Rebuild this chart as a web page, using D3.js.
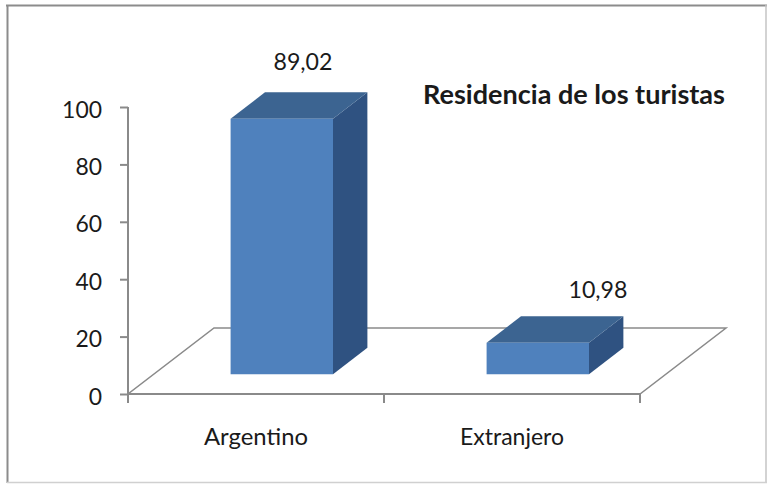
<!DOCTYPE html>
<html>
<head>
<meta charset="utf-8">
<script src="https://cdn.jsdelivr.net/npm/d3@7"></script>
<style>
  html, body { margin: 0; padding: 0; background: #fff; }
  svg { display: block; }
  text { font-family: Lato, "Open Sans", "Noto Sans", sans-serif; fill: #1a1a1a; }
</style>
</head>
<body>
<svg id="chart" width="773" height="485"></svg>
<script>
// ---- data ----
const categories = ["Argentino", "Extranjero"];
const values = [89.02, 10.98];
const valueLabels = ["89,02", "10,98"];
const yTicks = [0, 20, 40, 60, 80, 100];
const title = "Residencia de los turistas";

// ---- layout ----
const W = 773, H = 485;
const plot = { left: 128, right: 640, bottom: 394, top: 107 };
const depth = { dx: 86, dy: -66 };     // floor depth projection
const barDepth = [0.3, 0.7];           // bar front/back as fraction of floor depth
const colors = { front: "#4f81bd", top: "#3c6491", side: "#2f5281", grid: "#8a8a8a" };

const svg = d3.select("#chart");

// frame
svg.append("line").attr("x1", 6).attr("x2", 767).attr("y1", 5.5).attr("y2", 5.5).attr("stroke", "#8c8c8c").attr("stroke-width", 2);
svg.append("line").attr("x1", 7.5).attr("x2", 7.5).attr("y1", 5).attr("y2", 483).attr("stroke", "#8c8c8c").attr("stroke-width", 2);
svg.append("line").attr("x1", 766).attr("x2", 766).attr("y1", 5).attr("y2", 483).attr("stroke", "#c4c4c4").attr("stroke-width", 1.5);
svg.append("line").attr("x1", 7).attr("x2", 767).attr("y1", 482.5).attr("y2", 482.5).attr("stroke", "#d0d0d0").attr("stroke-width", 1.5);

const x = d3.scaleBand().domain(categories).range([plot.left, plot.right]).paddingInner(0).paddingOuter(0);
const y = d3.scaleLinear().domain([0, 100]).range([plot.bottom, plot.top]);
const barW = x.bandwidth() * 0.4;

function proj(px, v, d) {
  return [px + d * depth.dx, y(v) + d * depth.dy];
}

// floor
const floor = [
  proj(plot.left, 0, 0), proj(plot.right, 0, 0),
  proj(plot.right, 0, 1), proj(plot.left, 0, 1)
];
svg.append("path")
  .attr("d", d3.line()(floor) + "Z")
  .attr("fill", "#fff")
  .attr("stroke", colors.grid)
  .attr("stroke-width", 1.5);

// y axis
const yAxis = d3.axisLeft(y).tickValues(yTicks).tickSize(8).tickPadding(18).tickFormat(d3.format("d"));
const gy = svg.append("g").attr("transform", `translate(${plot.left},0)`).call(yAxis);
gy.select(".domain").remove();
gy.selectAll(".tick line").attr("stroke", colors.grid).attr("stroke-width", 2);
gy.selectAll(".tick text")
  .style("font-size", "24px")
  .attr("fill", "#1a1a1a")
  .attr("dy", "0.42em")
  .attr("textLength", d => String(d).length * 13.3)
  .attr("lengthAdjust", "spacingAndGlyphs");
svg.append("line")
  .attr("x1", plot.left).attr("x2", plot.left)
  .attr("y1", y(100)).attr("y2", plot.bottom + 9)
  .attr("stroke", colors.grid).attr("stroke-width", 2);

// x axis (front edge) + category ticks
svg.append("line")
  .attr("x1", plot.left).attr("x2", plot.right)
  .attr("y1", plot.bottom).attr("y2", plot.bottom)
  .attr("stroke", colors.grid).attr("stroke-width", 2);
const edges = [plot.left].concat(categories.map(c => x(c) + x.bandwidth()));
svg.selectAll(".xtick").data(edges).join("line")
  .attr("x1", d => d).attr("x2", d => d)
  .attr("y1", plot.bottom).attr("y2", plot.bottom + 9)
  .attr("stroke", colors.grid).attr("stroke-width", 2);

svg.selectAll(".xlabel").data(categories).join("text")
  .attr("x", d => x(d) + x.bandwidth() / 2)
  .attr("y", 445)
  .attr("text-anchor", "middle")
  .style("font-size", "24px")
  .attr("textLength", 104)
  .attr("lengthAdjust", "spacingAndGlyphs")
  .text(d => d);

// bars
const bars = svg.selectAll(".bar").data(categories.map((c, i) => ({ c, v: values[i], i }))).join("g");
bars.each(function(d) {
  const g = d3.select(this);
  const x0 = x(d.c) + (x.bandwidth() - barW) / 2, x1 = x0 + barW;
  const [f, b] = barDepth;
  const front = [proj(x0, 0, f), proj(x1, 0, f), proj(x1, d.v, f), proj(x0, d.v, f)];
  const side = [proj(x1, 0, f), proj(x1, 0, b), proj(x1, d.v, b), proj(x1, d.v, f)];
  const top = [proj(x0, d.v, f), proj(x1, d.v, f), proj(x1, d.v, b), proj(x0, d.v, b)];
  g.append("path").attr("d", d3.line()(side) + "Z").attr("fill", colors.side);
  g.append("path").attr("d", d3.line()(top) + "Z").attr("fill", colors.top);
  g.append("path").attr("d", d3.line()(front) + "Z").attr("fill", colors.front);
});

// value labels (positioned relative to each bar's top)
const labelShift = [[4, -22], [43, -18]];
svg.selectAll(".vlabel").data(categories).join("text")
  .attr("x", (c, i) => {
    const x0 = x(c) + (x.bandwidth() - barW) / 2;
    return proj(x0 + barW / 2, values[i], 0.5)[0] + labelShift[i][0];
  })
  .attr("y", (c, i) => proj(0, values[i], barDepth[1])[1] + labelShift[i][1])
  .attr("text-anchor", "middle")
  .style("font-size", "23px")
  .attr("textLength", 59)
  .attr("lengthAdjust", "spacingAndGlyphs")
  .text((c, i) => valueLabels[i]);

// title
svg.append("text")
  .attr("x", 423).attr("y", 104)
  .style("font-size", "26px")
  .style("font-weight", "bold")
  .attr("textLength", 302)
  .attr("lengthAdjust", "spacingAndGlyphs")
  .text(title);
</script>
</body>
</html>
